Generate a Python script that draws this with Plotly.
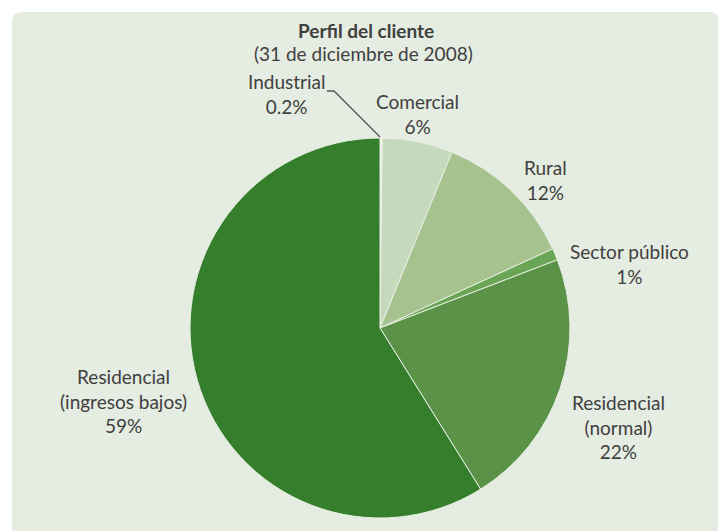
import plotly.graph_objects as go

W, H = 725, 531

labels = ["Industrial", "Comercial", "Rural", "Sector público",
          "Residencial (normal)", "Residencial (ingresos bajos)"]
values = [0.2, 6, 12, 1, 22, 59]
text_labels = ["Industrial<br>0.2%", "Comercial<br>6%", "Rural<br>12%",
               "Sector público<br>1%", "Residencial<br>(normal)<br>22%",
               "Residencial<br>(ingresos bajos)<br>59%"]
colors = ["#f2f5ee", "#c6d9bd", "#a5c28f", "#6aa455", "#5a9347", "#357f2c"]

# label anchor positions in pixels (x, y)
label_pos = [(286, 94), (418, 114), (545, 180), (629, 264), (618, 427), (123, 401)]

def px(x):
    return x / W

def py(y):
    return 1 - y / H

cx, cy, r = 380, 328, 190

fig = go.Figure(go.Pie(
    labels=labels, values=values, sort=False, direction="clockwise",
    rotation=0, marker=dict(colors=colors, line=dict(color="#e8efe4", width=1)),
    textinfo="none", hoverinfo="label+percent", showlegend=False,
    domain=dict(x=[px(cx - r), px(cx + r)], y=[py(cy + r), py(cy - r)]),
))

FS = 19
annotations = [
    dict(x=px(366), y=py(30), text="<b>Perfil del cliente</b>", showarrow=False,
         font=dict(size=FS), xanchor="center", yanchor="middle"),
    dict(x=px(363), y=py(53), text="(31 de diciembre de 2008)", showarrow=False,
         font=dict(size=FS), xanchor="center", yanchor="middle"),
]
for t, (x, y) in zip(text_labels, label_pos):
    annotations.append(dict(x=px(x), y=py(y), text=t, showarrow=False,
                            font=dict(size=FS), xanchor="center", yanchor="middle"))

shapes = [
    dict(type="path", xref="paper", yref="paper",
         path=f"M {px(12)},{py(540)} L {px(12)},{py(22)} Q {px(12)},{py(12)} {px(22)},{py(12)} "
              f"L {px(710)},{py(12)} Q {px(718)},{py(12)} {px(718)},{py(20)} L {px(718)},{py(540)} Z",
         fillcolor="#e5ece1", line=dict(width=0), layer="below"),
    dict(type="path", xref="paper", yref="paper",
         path=f"M {px(327)},{py(91)} L {px(334)},{py(91)} L {px(380)},{py(137)}",
         line=dict(color="#555555", width=1.3)),
]

fig.update_layout(
    width=W, height=H, margin=dict(l=0, r=0, t=0, b=0),
    paper_bgcolor="white", plot_bgcolor="white",
    font=dict(family="Lato, Open Sans, sans-serif", color="#404040"),
    annotations=annotations, shapes=shapes,
)

fig.write_html("out.html")
